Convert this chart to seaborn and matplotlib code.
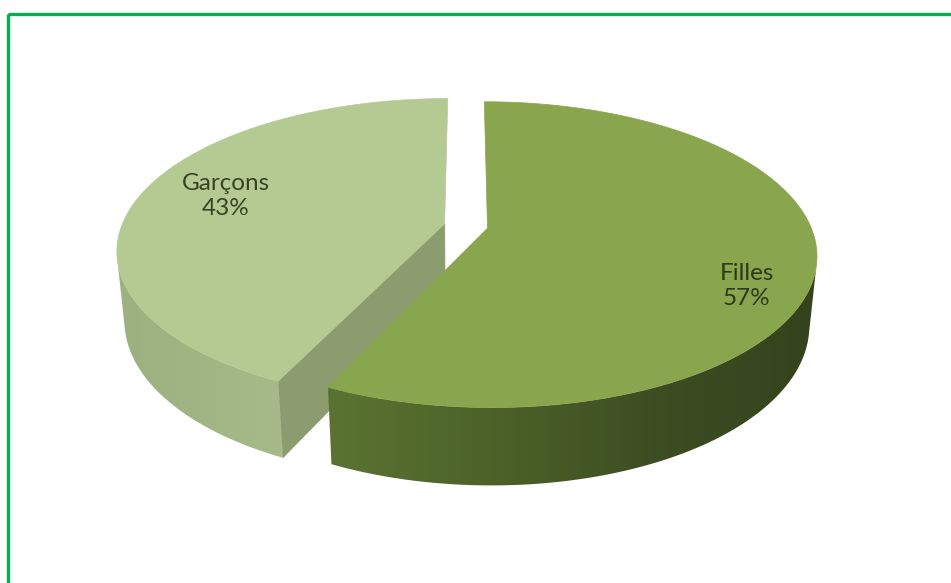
import numpy as np
import matplotlib
matplotlib.use("Agg")
import matplotlib.pyplot as plt
from matplotlib.patches import Polygon, Rectangle
from matplotlib.colors import LinearSegmentedColormap
import seaborn as sns

# ---- data -------------------------------------------------------------
categories = ["Filles", "Garçons"]
shares = [57, 43]

# ---- style ------------------------------------------------------------
TOP_COLORS = {"Filles": "#89a54e", "Garçons": "#b5ca92"}
SIDE_STOPS = {
    "Filles": ["#5b7332", "#4c6228", "#3d4e22", "#34431d"],
    "Garçons": ["#9db07f", "#a1b483", "#a7ba89"],
}
CUT_COLORS = {"Filles": "#4f6429", "Garçons": "#8b9c6e"}
TEXT_COLORS = {"Filles": "#2c391a", "Garçons": "#364425"}
# label anchor on each slice's top face: (radius fraction, angle in degrees)
LABEL_ANCHOR = {"Filles": (0.83, -26.0), "Garçons": (0.73, 164.5)}

W, H = 951, 583
CX, CY = 466.0, 226.0          # screen position of the pie centre
SCALE = 323.0                  # focal length * radius / distance, in px
SIN_E = 0.4568                 # sine of the viewing elevation
COS_E = np.sqrt(1 - SIN_E ** 2)
K = 0.1726                     # radius * cos(elev) / camera distance
D_R = COS_E / K                # camera distance in radius units
THICK = 0.243                  # pie height in radius units
EXPLODE = 0.068                # radial offset of every slice

sns.set_theme(style="white")
plt.rcParams["font.family"] = ["Lato", "DejaVu Sans"]


def project(X, Y, Z):
    """Perspective projection of pie-space points to screen pixels."""
    X, Y, Z = np.asarray(X, float), np.asarray(Y, float), np.asarray(Z, float)
    depth = 1 + (Y * COS_E - Z * SIN_E) / D_R
    u = SCALE * X / depth
    v = SCALE * (Y * SIN_E + Z * COS_E) / depth
    return CX + u, CY - v


def ring(ox, oy, angles, z):
    rad = np.radians(angles)
    x, y = project(ox + np.cos(rad), oy + np.sin(rad), np.full(rad.size, z))
    return np.column_stack([x, y])


fig = plt.figure(figsize=(W / 100, H / 100), dpi=100)
ax = fig.add_axes([0, 0, 1, 1])
ax.set_xlim(0, W)
ax.set_ylim(H, 0)
ax.axis("off")

# slice angles: first slice starts at 12 o'clock, going clockwise
fractions = np.array(shares, float) / np.sum(shares)
starts = 90 - 360 * np.concatenate([[0], np.cumsum(fractions)[:-1]])
ends = starts - 360 * fractions

cam = np.array([0.0, -D_R * COS_E, D_R * SIN_E])

slices = []
for cat, hi, lo in zip(categories, starts, ends):
    mid = np.radians((hi + lo) / 2)
    ox, oy = EXPLODE * np.cos(mid), EXPLODE * np.sin(mid)
    slices.append((cat, lo, hi, ox, oy))

# paint the slice that lies further back first
order = sorted(range(len(slices)), key=lambda i: -slices[i][4])

for i in order:
    cat, lo, hi, ox, oy = slices[i]
    base = np.array([ox, oy, 0.0])

    # radial cut faces clearly turned towards the camera
    for edge, normal in ((lo, lo - 90), (hi, hi + 90)):
        n = np.array([np.cos(np.radians(normal)), np.sin(np.radians(normal)), 0])
        view = cam - base
        if np.dot(n, view) / np.linalg.norm(view) <= 0.05:
            continue
        ex, ey = ox + np.cos(np.radians(edge)), oy + np.sin(np.radians(edge))
        xs, ys = project([ox, ex, ex, ox], [oy, ey, ey, oy],
                         [0, 0, -THICK, -THICK])
        ax.add_patch(Polygon(np.column_stack([xs, ys]), closed=True,
                             facecolor=CUT_COLORS[cat], edgecolor=CUT_COLORS[cat],
                             lw=0.6, zorder=2))

    # outer wall: the part whose outward normal faces the camera
    phi = np.linspace(lo, hi, 800)
    rad = np.radians(phi)
    px, py = ox + np.cos(rad), oy + np.sin(rad)
    facing = np.cos(rad) * (cam[0] - px) + np.sin(rad) * (cam[1] - py) > 0
    front = phi[facing]
    if front.size > 1:
        upper = ring(ox, oy, front, 0)
        lower = ring(ox, oy, front[::-1], -THICK)
        wall = np.vstack([upper, lower])
        patch = Polygon(wall, closed=True, facecolor="none",
                        edgecolor="none", zorder=2)
        ax.add_patch(patch)
        x0, x1 = wall[:, 0].min(), wall[:, 0].max()
        y0, y1 = wall[:, 1].min(), wall[:, 1].max()
        cmap = LinearSegmentedColormap.from_list(cat, SIDE_STOPS[cat])
        grad = np.linspace(0, 1, 512)[None, :]
        im = ax.imshow(grad, cmap=cmap, aspect="auto", interpolation="bilinear",
                       extent=[x0, x1, y1 + 1, y0 - 1], zorder=2)
        im.set_clip_path(patch)

    # top face
    vx, vy = project(ox, oy, 0)
    top = np.vstack([[vx, vy], ring(ox, oy, np.linspace(lo, hi, 400), 0)])
    ax.add_patch(Polygon(top, closed=True, facecolor=TOP_COLORS[cat],
                         edgecolor=TOP_COLORS[cat], lw=0.5, zorder=3))

    # data label
    rho, ang = LABEL_ANCHOR[cat]
    lx, ly = project(ox + rho * np.cos(np.radians(ang)),
                     oy + rho * np.sin(np.radians(ang)), 0)
    value = shares[categories.index(cat)]
    ax.text(lx, ly, f"{cat}\n{value}%", ha="center", va="center",
            fontsize=17.5, color=TEXT_COLORS[cat], linespacing=1.25, zorder=4)

ax.set_xlim(0, W)
ax.set_ylim(H, 0)

# green frame running along the top and left edges
ax.add_patch(Rectangle((7.5, 13.5), 1200, 800, fill=False,
                       edgecolor="#00b050", lw=2.4, zorder=5, clip_on=False))

fig.savefig("out.png", dpi=100, facecolor="white")
